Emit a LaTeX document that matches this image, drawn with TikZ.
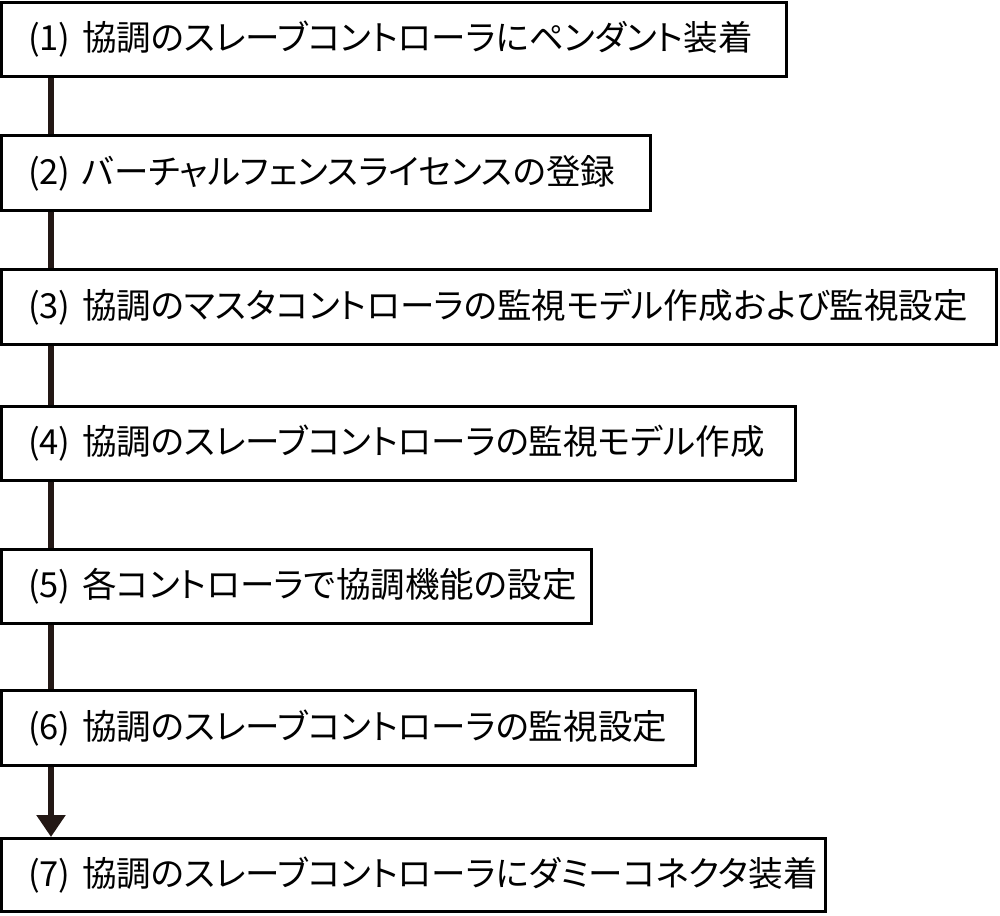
\documentclass[tikz,border=0pt]{standalone}
\usepackage{fontspec}
\setmainfont{Noto Sans CJK JP}[RawFeature=+palt]
\usetikzlibrary{arrows.meta}
\definecolor{connclr}{HTML}{231815}
\tikzset{
  stepbox/.style={draw=black, line width=2.25pt, fill=white, inner xsep=19.875pt, inner ysep=0pt,
    align=left, font=\fontsize{25.9pt}{30pt}\selectfont, anchor=center},
  conn/.style={draw=connclr, line width=4.5pt},
  connarrow/.style={conn, -{Triangle[width=21pt,length=16.5pt]}, fill=connclr}
}
\begin{document}
\begin{tikzpicture}[x=0.75pt,y=-0.75pt]
\useasboundingbox (0,0) rectangle (1000,916);
\node[stepbox, text width=549pt, minimum height=55.5pt] (b1) at (394,39.5) {(1)~協調のスレーブコントローラにペンダント装着};
\node[stepbox, text width=447pt, minimum height=56.25pt] (b2) at (326,173) {(2)~バーチャルフェンスライセンスの登録};
\node[stepbox, text width=706.5pt, minimum height=56.25pt] (b3) at (499,307) {(3)~協調のマスタコントローラの監視モデル作成および監視設定};
\node[stepbox, text width=555.75pt, minimum height=55.5pt] (b4) at (398.5,443.5) {(4)~協調のスレーブコントローラの監視モデル作成};
\node[stepbox, text width=402.75pt, minimum height=55.5pt] (b5) at (296.5,586.5) {(5)~各コントローラで協調機能の設定};
\node[stepbox, text width=480.75pt, minimum height=56.25pt] (b6) at (348.5,728) {(6)~協調のスレーブコントローラの監視設定};
\node[stepbox, text width=578.25pt, minimum height=54.75pt] (b7) at (413.5,875) {(7)~協調のスレーブコントローラにダミーコネクタ装着};
\coordinate (spine) at (51,0);
\draw[conn] (b1.south -| spine) -- (b2.north -| spine);
\draw[conn] (b2.south -| spine) -- (b3.north -| spine);
\draw[conn] (b3.south -| spine) -- (b4.north -| spine);
\draw[conn] (b4.south -| spine) -- (b5.north -| spine);
\draw[conn] (b5.south -| spine) -- (b6.north -| spine);
\draw[connarrow] (b6.south -| spine) -- (b7.north -| spine);
\end{tikzpicture}
\end{document}
